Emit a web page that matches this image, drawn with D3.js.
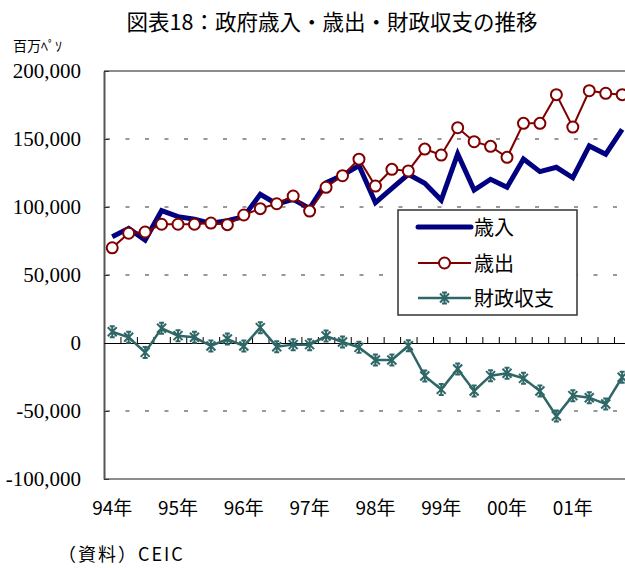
<!DOCTYPE html>
<html>
<head>
<meta charset="utf-8">
<script src="https://cdn.jsdelivr.net/npm/d3@7"></script>
<style>
  body { margin: 0; background: #fff; }
  svg { display: block; }
</style>
</head>
<body>
<svg id="chart" width="625" height="568"></svg>
<script>
// data (quarterly, million pesos)
const years = ["94", "95", "96", "97", "98", "99", "00", "01"];
const yearLabels = ["94年", "95年", "96年", "97年", "98年", "99年", "00年", "01年"];
const quarters = years.flatMap(y => ["Q1", "Q2", "Q3", "Q4"].map(q => y + q));

const revenue = [78200, 84300, 75700, 97300, 92900, 91000, 88000, 89900,
                 92900, 109300, 102200, 105600, 99000, 117900, 123300, 130500,
                 103200, 113700, 124000, 117400, 105100, 139000, 112500, 120400,
                 114500, 135300, 126000, 129200, 121500, 144900, 138800, 157100];
const expenditure = [70000, 80700, 81600, 87300, 87300, 87300, 88200, 87000,
                     94100, 98800, 102400, 108100, 97000, 114500, 123000, 135200,
                     115400, 127700, 126500, 142600, 138200, 158300, 148000, 144600,
                     136500, 161500, 161500, 182600, 158800, 185500, 183600, 182600];
const balance = [8300, 4200, -6900, 10800, 5400, 4200, -2200, 2900,
                 -2200, 11300, -2700, -1200, -1200, 5100, 700, -3200,
                 -12500, -12500, -2000, -24300, -34100, -19100, -35300, -24000,
                 -22300, -26000, -35300, -53700, -38700, -40200, -44900, -25200];
const yTicks = [-100000, -50000, 0, 50000, 100000, 150000, 200000];
const gridValues = [150000, 100000, 50000, -50000];

const seriesNames = ["歳入", "歳出", "財政収支"];
const colors = { rev: "#000080", exp: "#800000", bal: "#2f6767" };

const svg = d3.select("#chart");
const plotLeft = 104, plotTop = 71, plotBottom = 479, step = 16.45;

const x = d3.scaleBand().domain(quarters).range([plotLeft, plotLeft + step * quarters.length]);
const xi = d3.scaleLinear().domain([0, quarters.length]).range([plotLeft, plotLeft + step * quarters.length]);
const y = d3.scaleLinear().domain([-100000, 200000]).range([plotBottom, plotTop]);
const cx = q => x(q) + x.bandwidth() / 2;

// title and unit
svg.append("text")
  .attr("x", 332).attr("y", 30)
  .attr("text-anchor", "middle")
  .style("font-family", "'Noto Sans CJK JP'")
  .style("font-size", "21.5px")
  .text("図表18：政府歳入・歳出・財政収支の推移");

svg.append("text")
  .attr("x", 13).attr("y", 51)
  .style("font-family", "'Noto Sans CJK JP'")
  .style("font-size", "14px")
  .text("百万ﾍﾟｿ");

// dashed grid
svg.append("g").selectAll("line")
  .data(gridValues)
  .join("line")
  .attr("x1", plotLeft + 2).attr("x2", 625)
  .attr("y1", d => y(d)).attr("y2", d => y(d))
  .attr("stroke", "#333")
  .attr("stroke-dasharray", "4 15.5");

// top / bottom frame
svg.append("g").selectAll("line")
  .data([200000, -100000])
  .join("line")
  .attr("x1", plotLeft).attr("x2", 625)
  .attr("y1", d => y(d)).attr("y2", d => y(d))
  .attr("stroke", "#8c8c8c")
  .attr("stroke-width", 2);

// y axis
const fmt = d3.format(",");
const yAxis = svg.append("g")
  .attr("transform", `translate(${plotLeft},0)`)
  .call(d3.axisLeft(y)
    .tickValues(yTicks)
    .tickFormat(d => fmt(d).replace("−", "-"))
    .tickSizeInner(-5)
    .tickSizeOuter(0)
    .tickPadding(23));
yAxis.select(".domain").attr("stroke", "#555").attr("stroke-width", 2);
yAxis.selectAll(".tick line").attr("stroke", "#333");
yAxis.selectAll("text")
  .style("font-family", "'Liberation Serif'")
  .style("font-size", "21px")
  .attr("fill", "#000");

// zero line with quarter ticks
const zeroAxis = svg.append("g")
  .attr("transform", `translate(0,${y(0)})`)
  .call(d3.axisTop(xi)
    .tickValues(d3.range(1, quarters.length))
    .tickSize(6)
    .tickSizeOuter(0)
    .tickFormat(""));
zeroAxis.selectAll("path, line").attr("stroke", "#000");

// year labels
svg.append("g").selectAll("text")
  .data(years)
  .join("text")
  .attr("x", (d, i) => cx(d + "Q1"))
  .attr("y", 515)
  .attr("text-anchor", "middle")
  .style("font-family", "'Noto Sans CJK JP'")
  .style("font-size", "19px")
  .text((d, i) => yearLabels[i]);

// source
svg.append("text")
  .attr("x", 58).attr("y", 561)
  .style("font-family", "'Noto Sans CJK JP'")
  .style("font-size", "18px")
  .style("letter-spacing", "2px")
  .text("（資料）CEIC");

const line = d3.line().x((d, i) => cx(quarters[i])).y(d => y(d));

// 歳入
svg.append("path")
  .datum(revenue)
  .attr("d", line)
  .attr("fill", "none")
  .attr("stroke", colors.rev)
  .attr("stroke-width", 5)
  .attr("stroke-linejoin", "miter");

// 歳出
svg.append("path")
  .datum(expenditure)
  .attr("d", line)
  .attr("fill", "none")
  .attr("stroke", colors.exp)
  .attr("stroke-width", 2);
svg.append("g").selectAll("circle")
  .data(expenditure)
  .join("circle")
  .attr("cx", (d, i) => cx(quarters[i]))
  .attr("cy", d => y(d))
  .attr("r", 5.5)
  .attr("fill", "#fff")
  .attr("stroke", colors.exp)
  .attr("stroke-width", 2);

// 財政収支
const star = "M-4.5,-4.5L4.5,4.5M-4.5,4.5L4.5,-4.5M0,-5.5L0,5.5M-2.5,-5.5L2.5,-5.5M-2.5,5.5L2.5,5.5";
svg.append("path")
  .datum(balance)
  .attr("d", line)
  .attr("fill", "none")
  .attr("stroke", colors.bal)
  .attr("stroke-width", 2.5);
svg.append("g").selectAll("path")
  .data(balance)
  .join("path")
  .attr("transform", (d, i) => `translate(${cx(quarters[i])},${y(d)})`)
  .attr("d", star)
  .attr("fill", "none")
  .attr("stroke", colors.bal)
  .attr("stroke-width", 2);

// legend
const legend = svg.append("g").attr("transform", "translate(398,210)");
legend.append("rect")
  .attr("width", 179).attr("height", 105)
  .attr("fill", "#fff")
  .attr("stroke", "#333")
  .attr("stroke-width", 1.5);
const rows = [17, 53, 88];
const keys = ["rev", "exp", "bal"];
seriesNames.forEach((name, i) => {
  const g = legend.append("g").attr("transform", `translate(0,${rows[i]})`);
  g.append("line")
    .attr("x1", 20).attr("x2", 73)
    .attr("stroke", colors[keys[i]])
    .attr("stroke-width", i === 0 ? 5 : (i === 1 ? 2 : 2.5))
    .attr("stroke-linecap", i === 0 ? "round" : "butt");
  if (i === 1) {
    g.append("circle").attr("cx", 46.5).attr("r", 5.5)
      .attr("fill", "#fff").attr("stroke", colors.exp).attr("stroke-width", 2);
  }
  if (i === 2) {
    g.append("path").attr("transform", "translate(46.5,0)").attr("d", star)
      .attr("fill", "none").attr("stroke", colors.bal).attr("stroke-width", 2);
  }
  g.append("text")
    .attr("x", 76).attr("y", 7.5)
    .style("font-family", "'Noto Sans CJK JP'")
    .style("font-size", "20px")
    .text(name);
});
</script>
</body>
</html>
